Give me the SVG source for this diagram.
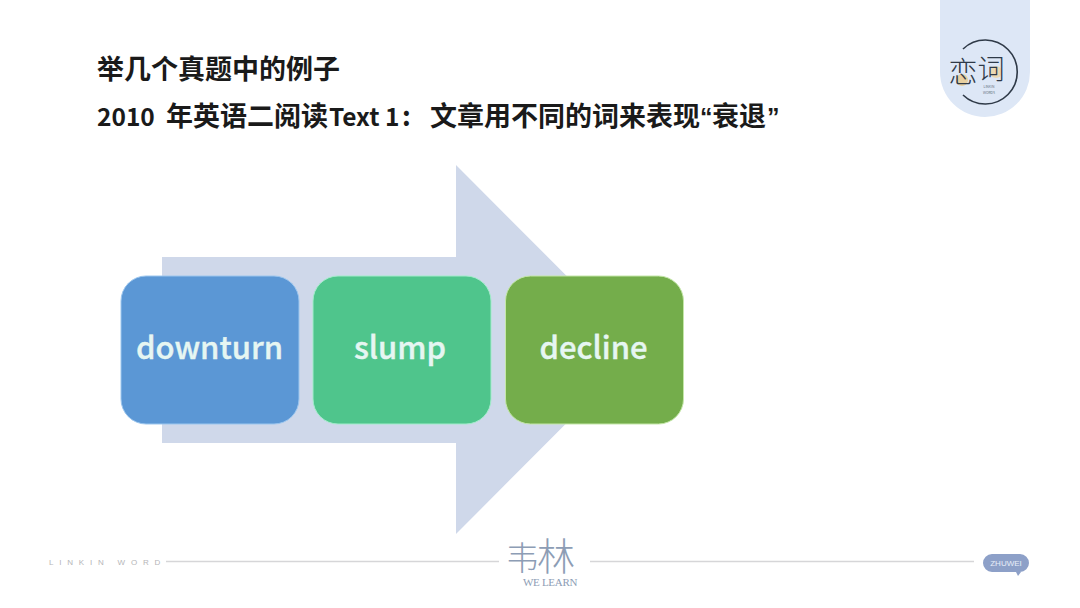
<svg xmlns="http://www.w3.org/2000/svg" width="1080" height="608" viewBox="0 0 1080 608">
<style>
.t{font-family:"Noto Sans CJK SC",sans-serif;font-weight:700;font-size:27px;fill:#1a1a1a}
.a{font-size:24.500px}
.q{font-size:25px;font-family:"Liberation Sans",sans-serif}
.n{font-family:"Noto Sans CJK SC",sans-serif;font-weight:500;font-size:31px;fill:#e6f6f2;text-anchor:middle;stroke:#e6f6f2;stroke-width:.4}
.l{stroke:#d6d6d8;stroke-width:1.3;fill:none}
.c{font-family:"Noto Sans CJK SC",sans-serif;fill:#2f3a48;text-anchor:middle;font-weight:300}
.w{font-family:"Noto Sans CJK SC",sans-serif;fill:#8d9db5;font-weight:300}
</style>
<rect width="1080" height="608" fill="#fff"/>
<g id="titles">
<text class="t" x="97" y="79">举几个真题中的例子</text>
<text class="t" y="125.500"><tspan class="a" x="97">2010</tspan><tspan x="166">年英语二阅读</tspan><tspan class="a" x="329">Text 1</tspan><tspan x="402">:</tspan><tspan x="430">文章用不同的词来表现</tspan><tspan class="q" x="700">“</tspan><tspan x="712">衰退</tspan><tspan class="q" x="767">”</tspan></text>
</g>
<g id="logo">
<path d="M940 0H1030V72A45 45 0 0 1 940 72Z" fill="#dde7f6"/>
<path d="M963 49A32 32 0 1 1 963 95" fill="none" stroke="#2f3a48" stroke-width="1.600"/>
<circle cx="962" cy="80" r="6" fill="#e8cf9f"/>
<circle cx="996" cy="72" r="6" fill="#ecd9b4"/>
<text class="c" x="963" y="83" font-size="29">恋</text>
<text class="c" x="991" y="79" font-size="27">词</text>
<text class="c" x="989" y="88" font-size="3.500">LINKIN</text>
<text class="c" x="989" y="94" font-size="3.500">WORDS</text>
</g>
<g id="arrow">
<path d="M162 257H456V165L640 349.500L456 534V443H162Z" fill="#cfd8ea"/>
</g>
<g id="node-downturn">
<rect x="121" y="276" width="178" height="148" rx="25" fill="#5b97d5" stroke="#9cc6ee" stroke-width="1"/>
<text class="n" x="209.500" y="359">downturn</text>
</g>
<g id="node-slump">
<rect x="313" y="276" width="178" height="148" rx="25" fill="#4fc58c" stroke="#a3eccb" stroke-width="1"/>
<text class="n" x="400" y="359">slump</text>
</g>
<g id="node-decline">
<rect x="505.500" y="276" width="178" height="148" rx="25" fill="#74ad4b" stroke="#c4e7a8" stroke-width="1"/>
<text class="n" x="593.500" y="359">decline</text>
</g>
<g id="footer">
<text x="49" y="565" font-family="Liberation Sans,sans-serif" font-size="8" letter-spacing="5.800" fill="#b5b5b8">LINKIN WORD</text>
<path class="l" d="M166 561.500H499M590 561.500H974"/>
<text class="w" x="506" y="570" font-size="33">韦</text>
<text class="w" x="537" y="570" font-size="38" font-weight="400">林</text>
<text x="523" y="586" font-family="Liberation Serif,serif" font-size="11" letter-spacing="0.600" fill="#8d9db5" textLength="55">WE LEARN</text>
<path d="M992 554H1020A9 9 0 0 1 1020 572H1021L1018 576L1016 572H992A9 9 0 0 1 992 554Z" fill="#8da0c8"/>
<text x="1006" y="566" font-family="Liberation Sans,sans-serif" font-size="8" fill="#e8eef8" text-anchor="middle">ZHUWEI</text>
</g>
</svg>
